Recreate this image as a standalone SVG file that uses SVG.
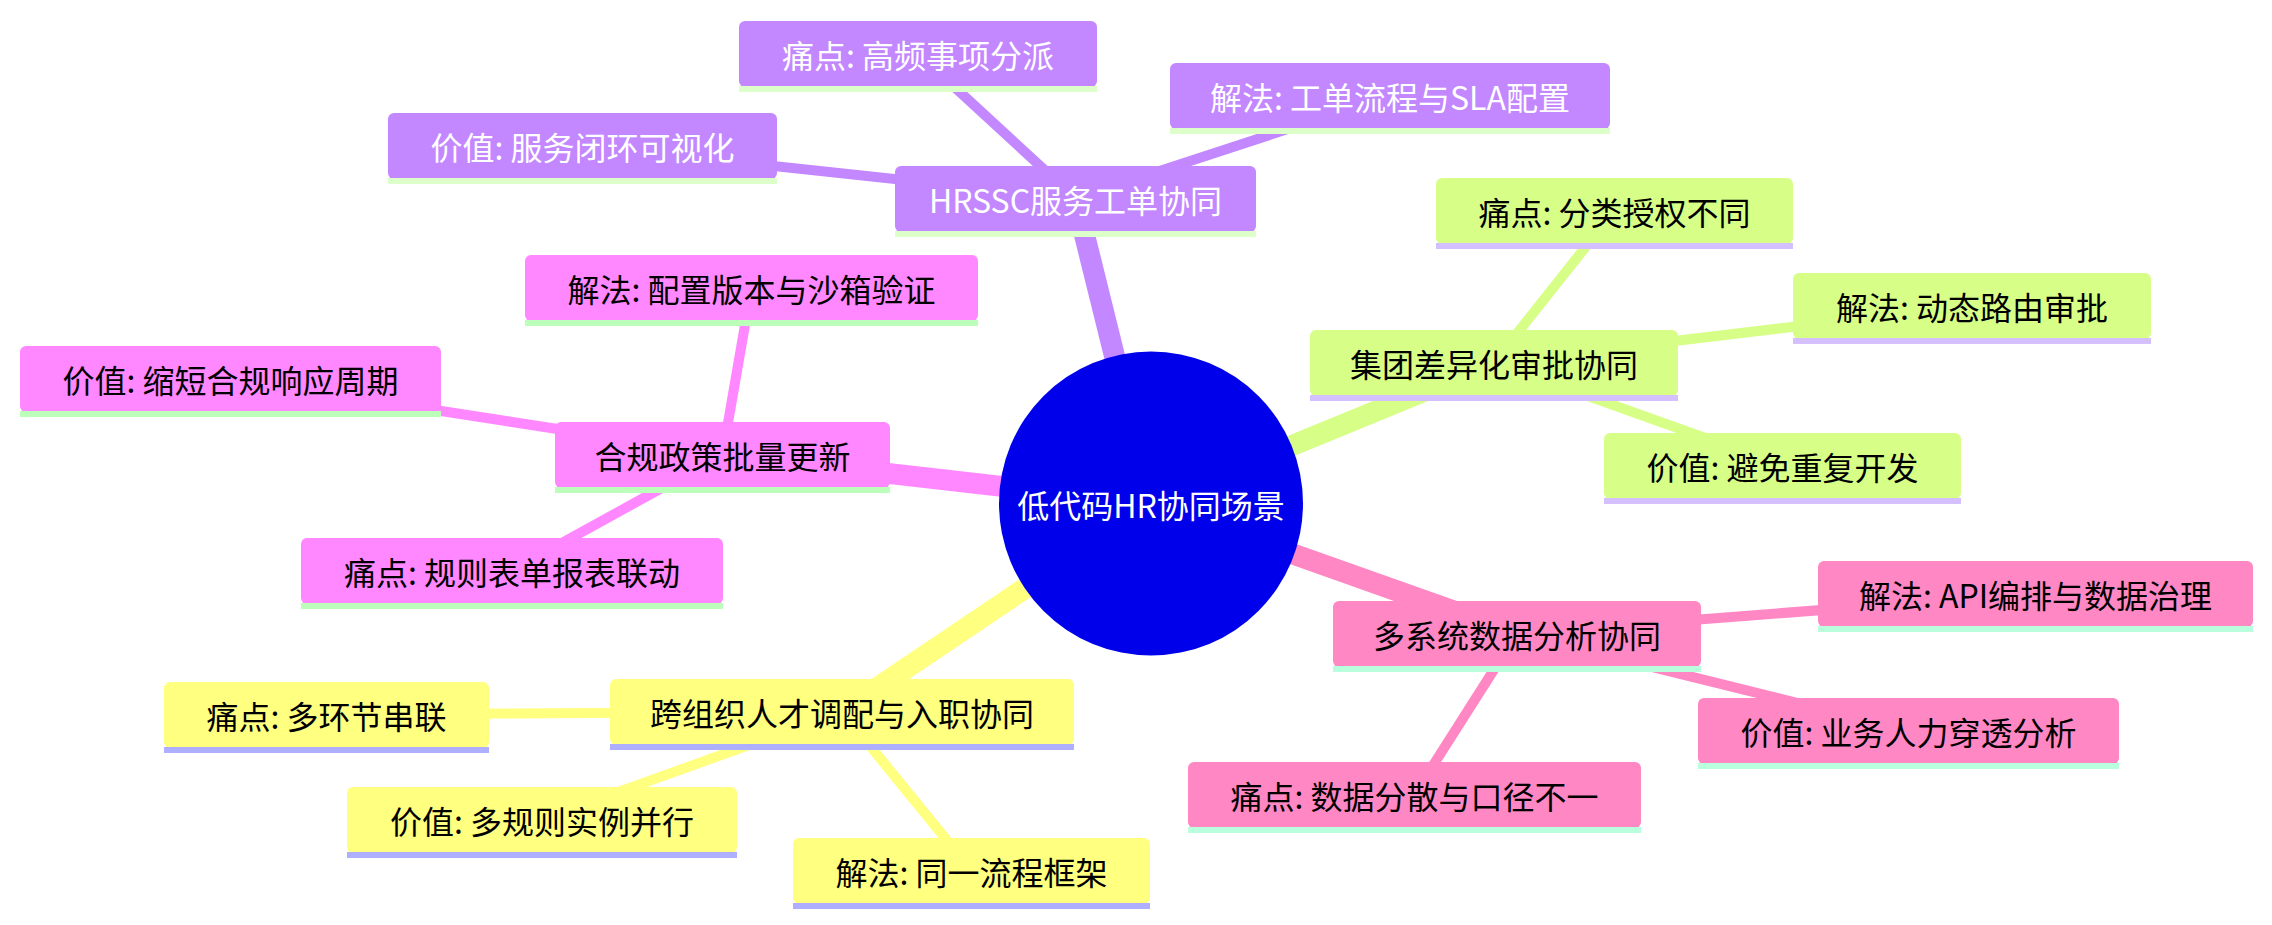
<svg xmlns="http://www.w3.org/2000/svg" width="2272" height="925" viewBox="0 0 2272 925">
<style>
.bg{fill:#ffffff}
.e{fill:none;stroke-linecap:butt}
.e0{stroke-width:21}
.e1{stroke-width:10}
.t{font-family:"Noto Sans CJK SC","Noto Sans",sans-serif;font-size:32px;text-anchor:middle;dominant-baseline:central}
.sp .box{fill:#C387FF}.sp .ul{fill:#DDFFC9}.sp text{fill:#ffffff}.ep{stroke:#C387FF}
.sg .box{fill:#D7FF87}.sg .ul{fill:#D4BFFF}.sg text{fill:#000000}.eg{stroke:#D7FF87}
.sm .box{fill:#FF87FF}.sm .ul{fill:#BBFFBB}.sm text{fill:#000000}.em{stroke:#FF87FF}
.sy .box{fill:#FFFF80}.sy .ul{fill:#AFAFFF}.sy text{fill:#000000}.ey{stroke:#FFFF80}
.sk .box{fill:#FF87C3}.sk .ul{fill:#B9FFDD}.sk text{fill:#000000}.ek{stroke:#FF87C3}
</style>
<rect class="bg" x="0" y="0" width="2272" height="925"/>
<g id="connectors">
  <line class="e e0 ep" x1="1151" y1="503.5" x2="1075.5" y2="198.5"/>
  <line class="e e0 eg" x1="1151" y1="503.5" x2="1494" y2="362.5"/>
  <line class="e e0 em" x1="1151" y1="503.5" x2="722.5" y2="454.5"/>
  <line class="e e0 ey" x1="1151" y1="503.5" x2="842" y2="711.5"/>
  <line class="e e0 ek" x1="1151" y1="503.5" x2="1517" y2="633.5"/>
  <line class="e e1 ep" x1="1075.5" y1="198.5" x2="918" y2="53.5"/>
  <line class="e e1 ep" x1="1075.5" y1="198.5" x2="582.5" y2="145.5"/>
  <line class="e e1 ep" x1="1075.5" y1="198.5" x2="1390" y2="95.5"/>
  <line class="e e1 eg" x1="1494" y1="362.5" x2="1614.5" y2="210.5"/>
  <line class="e e1 eg" x1="1494" y1="362.5" x2="1972" y2="305.5"/>
  <line class="e e1 eg" x1="1494" y1="362.5" x2="1782.5" y2="465.5"/>
  <line class="e e1 em" x1="722.5" y1="454.5" x2="751.5" y2="287.5"/>
  <line class="e e1 em" x1="722.5" y1="454.5" x2="230.5" y2="378.5"/>
  <line class="e e1 em" x1="722.5" y1="454.5" x2="512" y2="570.5"/>
  <line class="e e1 ey" x1="842" y1="711.5" x2="326.5" y2="714.5"/>
  <line class="e e1 ey" x1="842" y1="711.5" x2="542" y2="819.5"/>
  <line class="e e1 ey" x1="842" y1="711.5" x2="971.5" y2="870.5"/>
  <line class="e e1 ek" x1="1517" y1="633.5" x2="1414.5" y2="794.5"/>
  <line class="e e1 ek" x1="1517" y1="633.5" x2="2035.5" y2="593.5"/>
  <line class="e e1 ek" x1="1517" y1="633.5" x2="1908.5" y2="730.5"/>
</g>
<g id="root">
  <circle cx="1151" cy="503.5" r="152" fill="#0000EB"/>
  <text class="t" x="1151" y="503.5" fill="#ffffff">低代码HR协同场景</text>
</g>
<g id="p0" class="sp" transform="translate(895,166)"><rect class="box" width="361" height="66" rx="6"/><rect class="ul" y="65" width="361" height="6"/><text class="t" x="180.5" y="33">HRSSC服务工单协同</text></g>
<g id="p1" class="sp" transform="translate(739,21)"><rect class="box" width="358" height="66" rx="6"/><rect class="ul" y="65" width="358" height="6"/><text class="t" x="179" y="33">痛点: 高频事项分派</text></g>
<g id="p2" class="sp" transform="translate(388,113)"><rect class="box" width="389" height="66" rx="6"/><rect class="ul" y="65" width="389" height="6"/><text class="t" x="194.5" y="33">价值: 服务闭环可视化</text></g>
<g id="p3" class="sp" transform="translate(1170,63)"><rect class="box" width="440" height="66" rx="6"/><rect class="ul" y="65" width="440" height="6"/><text class="t" x="220" y="33">解法: 工单流程与SLA配置</text></g>
<g id="g0" class="sg" transform="translate(1310,330)"><rect class="box" width="368" height="66" rx="6"/><rect class="ul" y="65" width="368" height="6"/><text class="t" x="184" y="33">集团差异化审批协同</text></g>
<g id="g1" class="sg" transform="translate(1436,178)"><rect class="box" width="357" height="66" rx="6"/><rect class="ul" y="65" width="357" height="6"/><text class="t" x="178.5" y="33">痛点: 分类授权不同</text></g>
<g id="g2" class="sg" transform="translate(1793,273)"><rect class="box" width="358" height="66" rx="6"/><rect class="ul" y="65" width="358" height="6"/><text class="t" x="179" y="33">解法: 动态路由审批</text></g>
<g id="g3" class="sg" transform="translate(1604,433)"><rect class="box" width="357" height="66" rx="6"/><rect class="ul" y="65" width="357" height="6"/><text class="t" x="178.5" y="33">价值: 避免重复开发</text></g>
<g id="m0" class="sm" transform="translate(555,422)"><rect class="box" width="335" height="66" rx="6"/><rect class="ul" y="65" width="335" height="6"/><text class="t" x="167.5" y="33">合规政策批量更新</text></g>
<g id="m1" class="sm" transform="translate(525,255)"><rect class="box" width="453" height="66" rx="6"/><rect class="ul" y="65" width="453" height="6"/><text class="t" x="226.5" y="33">解法: 配置版本与沙箱验证</text></g>
<g id="m2" class="sm" transform="translate(20,346)"><rect class="box" width="421" height="66" rx="6"/><rect class="ul" y="65" width="421" height="6"/><text class="t" x="210.5" y="33">价值: 缩短合规响应周期</text></g>
<g id="m3" class="sm" transform="translate(301,538)"><rect class="box" width="422" height="66" rx="6"/><rect class="ul" y="65" width="422" height="6"/><text class="t" x="211" y="33">痛点: 规则表单报表联动</text></g>
<g id="y0" class="sy" transform="translate(610,679)"><rect class="box" width="464" height="66" rx="6"/><rect class="ul" y="65" width="464" height="6"/><text class="t" x="232" y="33">跨组织人才调配与入职协同</text></g>
<g id="y1" class="sy" transform="translate(164,682)"><rect class="box" width="325" height="66" rx="6"/><rect class="ul" y="65" width="325" height="6"/><text class="t" x="162.5" y="33">痛点: 多环节串联</text></g>
<g id="y2" class="sy" transform="translate(347,787)"><rect class="box" width="390" height="66" rx="6"/><rect class="ul" y="65" width="390" height="6"/><text class="t" x="195" y="33">价值: 多规则实例并行</text></g>
<g id="y3" class="sy" transform="translate(793,838)"><rect class="box" width="357" height="66" rx="6"/><rect class="ul" y="65" width="357" height="6"/><text class="t" x="178.5" y="33">解法: 同一流程框架</text></g>
<g id="k0" class="sk" transform="translate(1333,601)"><rect class="box" width="368" height="66" rx="6"/><rect class="ul" y="65" width="368" height="6"/><text class="t" x="184" y="33">多系统数据分析协同</text></g>
<g id="k1" class="sk" transform="translate(1188,762)"><rect class="box" width="453" height="66" rx="6"/><rect class="ul" y="65" width="453" height="6"/><text class="t" x="226.5" y="33">痛点: 数据分散与口径不一</text></g>
<g id="k2" class="sk" transform="translate(1818,561)"><rect class="box" width="435" height="66" rx="6"/><rect class="ul" y="65" width="435" height="6"/><text class="t" x="217.5" y="33">解法: API编排与数据治理</text></g>
<g id="k3" class="sk" transform="translate(1698,698)"><rect class="box" width="421" height="66" rx="6"/><rect class="ul" y="65" width="421" height="6"/><text class="t" x="210.5" y="33">价值: 业务人力穿透分析</text></g>
</svg>
